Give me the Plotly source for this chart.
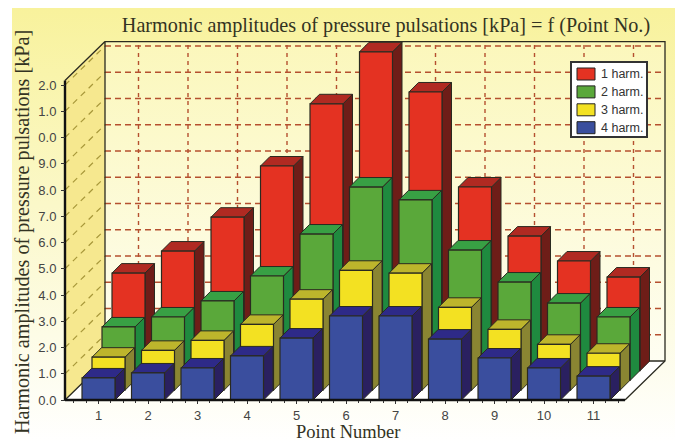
import plotly.graph_objects as go

points = list(range(1, 12))
y_tick_values = list(range(0, 13))
y_tick_labels = ["0.0", "1.0", "2.0", "3.0", "4.0", "5.0", "6.0", "7.0", "8.0", "9.0", "0.0", "1.0", "2.0"]
harm1 = [3.72, 4.56, 5.85, 7.80, 10.17, 12.15, 10.62, 7.00, 5.13, 4.18, 3.57]
harm2 = [2.04, 2.42, 3.03, 3.98, 5.58, 7.37, 6.88, 4.97, 3.75, 2.95, 2.42]
harm3 = [1.26, 1.52, 1.90, 2.51, 3.47, 4.57, 4.46, 3.16, 2.32, 1.75, 1.41]
harm4 = [0.84, 1.03, 1.22, 1.68, 2.36, 3.20, 3.20, 2.32, 1.60, 1.22, 0.91]
series_names = ["1 harm.", "2 harm.", "3 harm.", "4 harm."]

W, H = 675, 443
PX_X1, PX_XU = 98.5, 49.5      # pixel of point 1, pixels per point
PX_Y0, PX_YU = 400.0, 26.25    # pixel of value 0, pixels per unit
ux = 1 / PX_XU
uy = 1 / PX_YU
def xv(px): return 1 + (px - PX_X1) * ux
def yv(py): return (PX_Y0 - py) * uy

XL, XR = xv(65), xv(625)
YTOP = 12.17
WALL_DX, WALL_DY = 40 * ux, 39 * uy
ROW_DX, ROW_DY = 10 * ux, 9.75 * uy
SIDE_DX, SIDE_DY = 9.5 * ux, 9.5 * uy
BAR_W = 33 * ux

FRAME = "#2a2a20"
GRID = "#b5502f"
OLIVE = "#a8983a"
TITLE_FONT = dict(family="Liberation Serif", size=20.2, color="#333322")
XTITLE_FONT = dict(family="Liberation Serif", size=18.5, color="#333322")
TICK_FONT = dict(size=13, color="#444444")

fig = go.Figure()

def poly(xs, ys, fill=None, grad=None, line=FRAME, lw=0):
    kw = dict(x=xs, y=ys, mode="lines", fill="toself", hoverinfo="skip",
              line=dict(color=line, width=lw), showlegend=False)
    if grad:
        kw["fillgradient"] = dict(type="vertical", colorscale=grad)
    else:
        kw["fillcolor"] = fill
    fig.add_trace(go.Scatter(**kw))

def lines(xs, ys, color, width, dash="solid"):
    fig.add_trace(go.Scatter(x=xs, y=ys, mode="lines", hoverinfo="skip", showlegend=False,
                             line=dict(color=color, width=width, dash=dash)))

# panel
p0, p1, q0, q1 = xv(12), xv(675), yv(443), yv(8)
poly([p0, p1, p1, p0, p0], [q0, q0, q1, q1, q0],
     grad=[[0, "#ffffff"], [0.25, "#fdfce6"], [1, "#f8f29c"]])

# floor
poly([XL, XR, XR + WALL_DX, XL + WALL_DX, XL], [0, 0, WALL_DY, WALL_DY, 0], fill="#ffffff")
# left wall
poly([XL, XL + WALL_DX, XL + WALL_DX, XL, XL], [0, WALL_DY, YTOP + WALL_DY, YTOP, 0], fill="#f6e88f")
# back wall
bx0, bx1 = XL + WALL_DX, XR + WALL_DX
poly([bx0, bx1, bx1, bx0, bx0], [WALL_DY, WALL_DY, YTOP + WALL_DY, YTOP + WALL_DY, WALL_DY],
     grad=[[0, "#fefef2"], [1, "#fbf7bb"]])

# grid
gx, gy = [], []
for v in y_tick_values[1:]:
    gx += [bx0, bx1, None]
    gy += [v + WALL_DY, v + WALL_DY, None]
lines(gx, gy, GRID, 1.4, "6px,4px")
gx, gy = [], []
for p in points:
    gx += [p + WALL_DX, p + WALL_DX, None]
    gy += [WALL_DY, YTOP + WALL_DY, None]
lines(gx, gy, GRID, 1.4, "4px,4px")
gx, gy = [], []
for v in y_tick_values[1:]:
    gx += [XL, bx0, None]
    gy += [v, v + WALL_DY, None]
lines(gx, gy, OLIVE, 1.2, "6px,5px")

# frame
lines([XL, bx0, bx0], [YTOP, YTOP + WALL_DY, WALL_DY], FRAME, 1.3)
lines([bx0, bx1, bx1, XR], [YTOP + WALL_DY, YTOP + WALL_DY, WALL_DY, 0], FRAME, 1.3)
lines([XL, bx0, bx1], [0, WALL_DY, WALL_DY], FRAME, 1.3)

# bars, back row to front row
rows = [
    (3, harm1, "#e43222", "#b02a22", "#6e1d18"),
    (2, harm2, "#5aa83a", "#38a044", "#1f8a3f"),
    (1, harm3, "#f3e122", "#bdb52c", "#8a8532"),
    (0, harm4, "#3a4e9e", "#2e2a88", "#2a2060"),
]
for (row, vals, front, top, side), nm in zip(rows, series_names):
    fx, fy, tx, ty, sx, sy = [], [], [], [], [], []
    for p, v in zip(points, vals):
        x0 = p - BAR_W / 2 + row * ROW_DX
        x1 = x0 + BAR_W
        b = row * ROW_DY
        t = b + v
        fx += [x0, x1, x1, x0, x0, None]
        fy += [b, b, t, t, b, None]
        tx += [x0, x1, x1 + SIDE_DX, x0 + SIDE_DX, x0, None]
        ty += [t, t, t + SIDE_DY, t + SIDE_DY, t, None]
        sx += [x1, x1 + SIDE_DX, x1 + SIDE_DX, x1, x1, None]
        sy += [b, b + SIDE_DY, t + SIDE_DY, t, b, None]
    poly(sx, sy, fill=side, lw=1)
    poly(tx, ty, fill=top, lw=1)
    poly(fx, fy, fill=front, lw=1.2)

# axes lines
lines([XL, XL], [0, YTOP], "#111111", 2.4)
lines([XL, XR], [0, 0], "#111111", 2.4)

# legend box, swatches and labels
shapes = [dict(type="rect", xref="paper", yref="paper", x0=571 / W, x1=647 / W,
               y0=1 - 137 / H, y1=1 - 62 / H, fillcolor="#ffffff",
               line=dict(color="#333333", width=2), layer="above")]
legend_notes = []
for i, ((_, _, front, _, _), nm) in enumerate(zip(rows, series_names)):
    cy = 74 + i * 17.9
    shapes.append(dict(type="rect", xref="paper", yref="paper", x0=577 / W, x1=595 / W,
                       y0=1 - (cy + 6) / H, y1=1 - (cy - 6) / H, fillcolor=front,
                       line=dict(color="#222222", width=1), layer="above"))
    legend_notes.append(dict(text=nm, xref="paper", yref="paper", x=599 / W, y=1 - cy / H,
                             showarrow=False, xanchor="left", yanchor="middle",
                             font=dict(family="Liberation Sans", size=12.5, color="#333333")))

minor_x = [v / 4 for v in range(2, 47) if v % 4 != 0]

fig.update_layout(
    width=W, height=H, margin=dict(l=0, r=0, t=0, b=0),
    paper_bgcolor="#ffffff", plot_bgcolor="rgba(0,0,0,0)",
    font=dict(family="Liberation Sans", size=13, color="#444444"),
    showlegend=False,
    shapes=shapes,
    title=dict(text="Harmonic amplitudes of pressure pulsations [kPa] = f (Point No.)",
               x=386 / W, xanchor="center", y=1 - 25 / H, yanchor="middle", font=TITLE_FONT),
    xaxis=dict(range=[xv(0), xv(W)], domain=[0, 1], anchor="free", position=(H - PX_Y0) / H,
               tickmode="array", tickvals=points, ticktext=[str(p) for p in points],
               ticks="outside", ticklen=3, tickcolor="#333333", showgrid=False, zeroline=False,
               showline=False, tickfont=TICK_FONT, ticklabelstandoff=0,
               minor=dict(tickmode="array", tickvals=minor_x, ticks="outside", ticklen=2,
                          tickcolor="#333333")),
    yaxis=dict(range=[yv(H), yv(0)], domain=[0, 1], anchor="free", position=65 / W,
               tickmode="array", tickvals=y_tick_values, ticktext=y_tick_labels,
               ticks="outside", ticklen=4, tickcolor="#333333", showgrid=False, zeroline=False,
               showline=False, tickfont=TICK_FONT, ticklabelstandoff=2),
    annotations=legend_notes + [
        dict(text="Point Number", xref="paper", yref="paper", x=348 / W, y=1 - 432 / H,
             showarrow=False, xanchor="center", yanchor="middle", font=XTITLE_FONT),
        dict(text="Harmonic amplitudes of pressure pulsations [kPa]", xref="paper", yref="paper",
             x=22 / W, y=1 - 232 / H, showarrow=False, textangle=-90, xanchor="center", yanchor="middle",
             font=TITLE_FONT),
    ],
)
fig.write_html("out.html", config={"displayModeBar": False},
               post_script="document.body.style.margin='0';")
